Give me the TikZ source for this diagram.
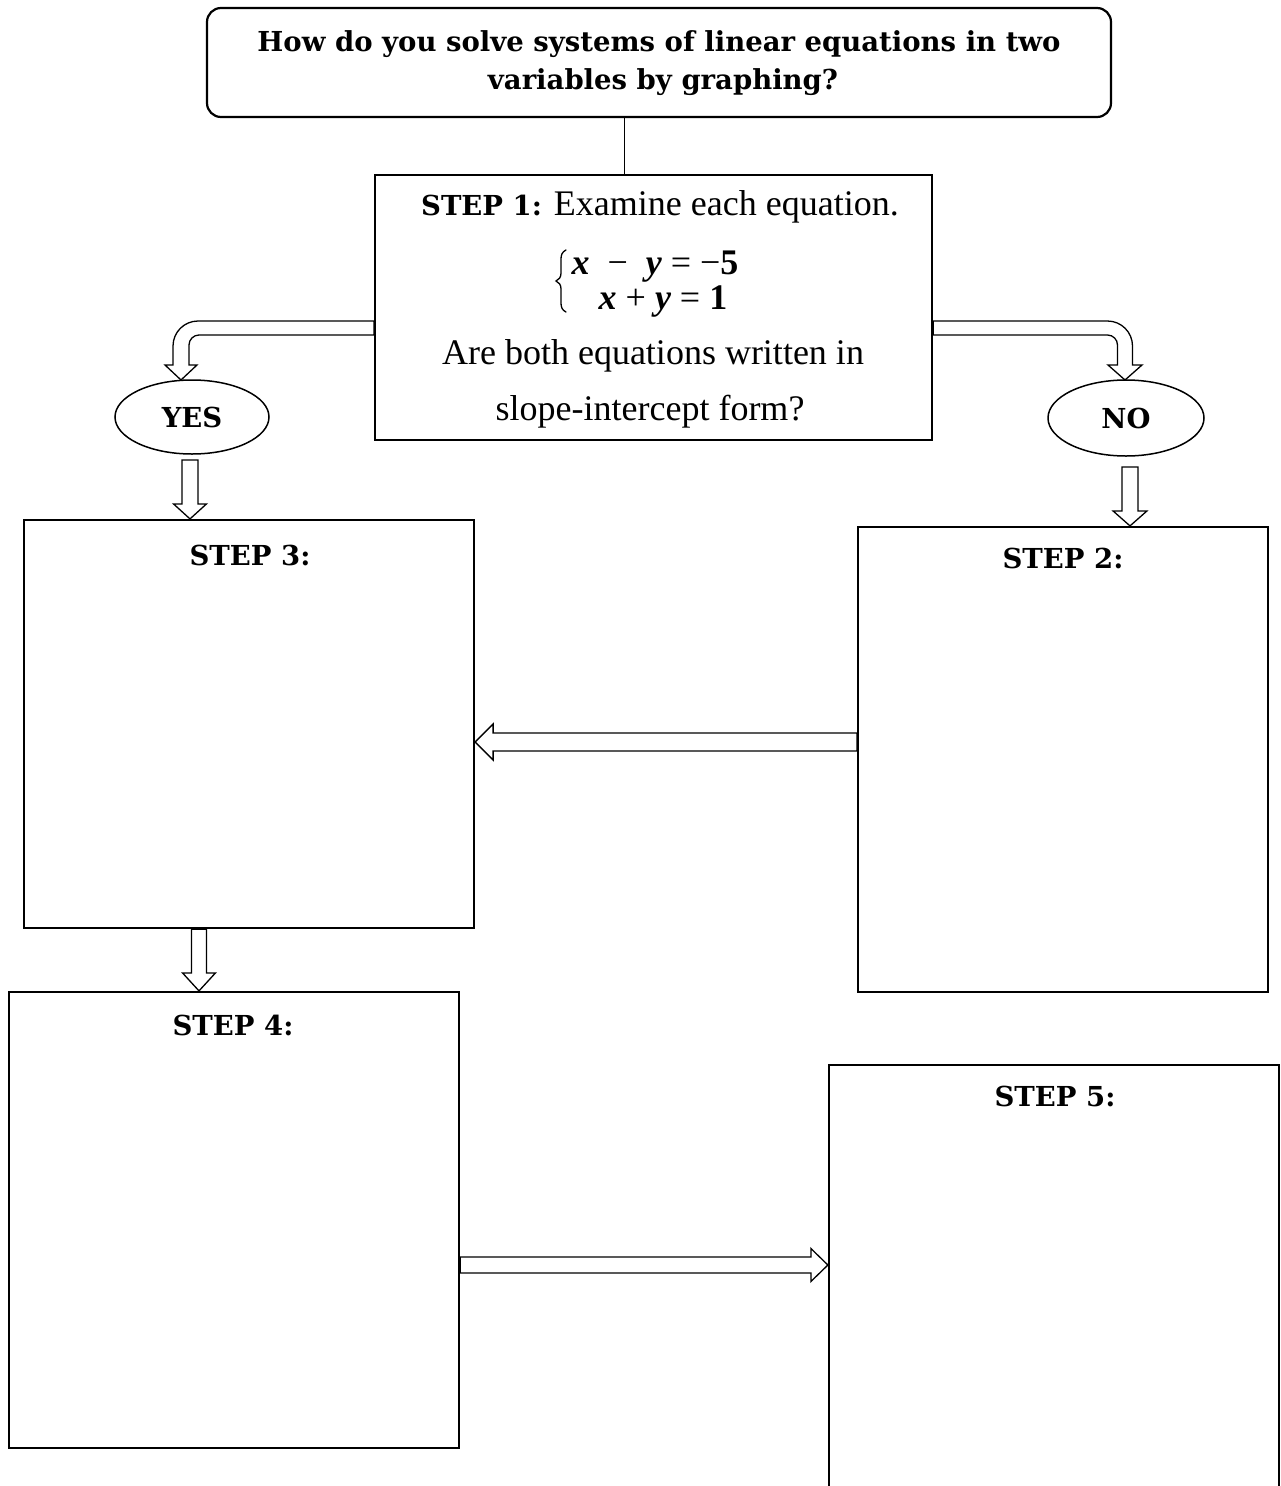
\documentclass[tikz,border=0pt]{standalone}
\usepackage{fontspec}
\setmainfont{Liberation Serif}
\newfontfamily\bkfam{DejaVu Serif}
\usetikzlibrary{calc,shapes.geometric}
\newcommand\bk{\bkfam\bfseries}
\newcommand\vblk[5]{\draw[blk] let \p1=(#1),\p2=(#2) in (\x2-#3pt,\y1) -- (\x2-#3pt,\y2+#5pt) -- (\x2-#4pt,\y2+#5pt) -- (\x2,\y2) -- (\x2+#4pt,\y2+#5pt) -- (\x2+#3pt,\y2+#5pt) -- (\x2+#3pt,\y1) -- cycle;}
\newcommand\hblk[5]{\draw[blk] let \p1=(#1),\p2=(#2) in (\x1,\y2+#3pt) -- (\x2#5,\y2+#3pt) -- (\x2#5,\y2+#4pt) -- (\x2,\y2) -- (\x2#5,\y2-#4pt) -- (\x2#5,\y2-#3pt) -- (\x1,\y2-#3pt) -- cycle;}
\newcommand\bi[1]{{\bfseries\itshape #1}}
\begin{document}
\begin{tikzpicture}[x=1pt,y=-1pt,
  box/.style={draw, line width=2.2pt, inner sep=0pt},
  blk/.style={draw, line width=1.3pt, fill=white, line join=miter},
  oval/.style={draw, ellipse, line width=1.5pt, inner sep=0pt, font=\bk\fontsize{27.5}{32}\selectfont},
  lbl/.style={font=\bk\fontsize{27.5}{32}\selectfont, anchor=base, inner sep=0pt},
  body/.style={font=\fontsize{36}{42}\selectfont, anchor=base, inner sep=0pt},
  eqn/.style={font=\fontsize{36}{42}\selectfont, anchor=base, inner sep=0pt}]
\clip (0,0) rectangle (1281,1486);
\fill[white] (0,0) rectangle (1281,1486);
% title
\node[box, rounded corners=14pt, minimum width=904pt, minimum height=109pt] (q) at (659,62.5) {};
\node[lbl] (q1) at (659,51) {How do you solve systems of linear equations in two};
\node[lbl] (q2) at (663,89) {variables by graphing?};
% step 1
\node[box, minimum width=557pt, minimum height=265pt] (s1) at (653.5,307.5) {};
\draw[line width=1pt] (q.south -| 624,0) -- (s1.north -| 624,0);
\node[body] (s1a) at (660,215) {{\bk\fontsize{27.5}{32}\selectfont STEP 1:} Examine each equation.};
\coordinate (brc) at (556,281);
\draw[line width=1.3pt, line cap=round] let \p1=(brc) in (\x1+10pt,\y1+31pt) .. controls (\x1+6pt,\y1+29pt) and (\x1+5pt,\y1+26pt) .. (\x1+5pt,\y1+22pt) -- (\x1+5pt,\y1+8pt) .. controls (\x1+5pt,\y1+4pt) and (\x1+3pt,\y1+1pt) .. (\x1,\y1) .. controls (\x1+3pt,\y1-1pt) and (\x1+5pt,\y1-4pt) .. (\x1+5pt,\y1-8pt) -- (\x1+5pt,\y1-22pt) .. controls (\x1+5pt,\y1-26pt) and (\x1+6pt,\y1-29pt) .. (\x1+10pt,\y1-31pt);
\node[eqn] (e1) at (655,274) {\bi{x}\enspace−\enspace\bi{y} = −{\bfseries 5}};
\node[eqn] (e2) at (663,309) {\bi{x} + \bi{y} = {\bfseries 1}};
\node[body] (s1c) at (653,364) {Are both equations written in};
\node[body] (s1d) at (650,420) {slope-intercept form?};
% yes / no
\node[oval, minimum width=154pt, minimum height=74pt] (yes) at (192,417) {YES};
\node[oval, minimum width=156pt, minimum height=76pt] (no) at (1126,418) {NO};
% boxes
\node[box, minimum width=450pt, minimum height=408pt] (s3) at (249,724) {};
\node[lbl] (s3l) at (250,565) {STEP 3:};
\node[box, minimum width=410pt, minimum height=465pt] (s2) at (1063,759.5) {};
\node[lbl] (s2l) at (1063,568) {STEP 2:};
\node[box, minimum width=450pt, minimum height=456pt] (s4) at (234,1220) {};
\node[lbl] (s4l) at (233,1035) {STEP 4:};
\node[box, minimum width=450pt, minimum height=440pt] (s5) at (1054,1285) {};
\node[lbl] (s5l) at (1055,1106) {STEP 5:};
% bent arrows
\coordinate (lbS) at (s1.west |- 0,328);
\coordinate (lbT) at (181,380);
\draw[blk] let \p1=(lbS), \p2=(lbT) in (\x1,\y1+7pt) -- (\x2+17pt,\y1+7pt) .. controls (\x2+3.2pt,\y1+7pt) and (\x2-8pt,\y1-4.2pt) .. (\x2-8pt,\y1-18pt) -- (\x2-8pt,\y2+15pt) -- (\x2-16pt,\y2+15pt) -- (\x2,\y2) -- (\x2+16pt,\y2+15pt) -- (\x2+8pt,\y2+15pt) -- (\x2+8pt,\y1-17pt) .. controls (\x2+8pt,\y1-11.5pt) and (\x2+12.5pt,\y1-7pt) .. (\x2+18pt,\y1-7pt) -- (\x1,\y1-7pt) -- cycle;
\coordinate (rbS) at (s1.east |- 0,328);
\coordinate (rbT) at (1125,380);
\draw[blk] let \p1=(rbS), \p2=(rbT) in (\x1,\y1+7pt) -- (\x2-17.5pt,\y1+7pt) .. controls (\x2-3.7pt,\y1+7pt) and (\x2+7.5pt,\y1-4.2pt) .. (\x2+7.5pt,\y1-18pt) -- (\x2+7.5pt,\y2+15pt) -- (\x2+17pt,\y2+15pt) -- (\x2,\y2) -- (\x2-17pt,\y2+15pt) -- (\x2-7.5pt,\y2+15pt) -- (\x2-7.5pt,\y1-17pt) .. controls (\x2-7.5pt,\y1-11.5pt) and (\x2-12pt,\y1-7pt) .. (\x2-17.5pt,\y1-7pt) -- (\x1,\y1-7pt) -- cycle;
% straight arrows
\coordinate (ya) at (190,460);
\coordinate (yb) at (s3.north -| 190,0);
\vblk{ya}{yb}{8}{16.5}{15}
\coordinate (na) at (1130,467);
\coordinate (nb) at (s2.north -| 1130,0);
\vblk{na}{nb}{8}{17}{15}
\coordinate (ta) at (s3.south -| 199,0);
\coordinate (tb) at (s4.north -| 199,0);
\vblk{ta}{tb}{7.5}{16.5}{18}
\coordinate (ha) at (s2.west |- 0,742);
\coordinate (hb) at (s3.east |- 0,742);
\hblk{ha}{hb}{9}{18}{+18pt}
\coordinate (fa) at (s4.east |- 0,1265);
\coordinate (fb) at (s5.west |- 0,1265);
\hblk{fa}{fb}{8}{16.5}{-17pt}
\end{tikzpicture}
\end{document}
